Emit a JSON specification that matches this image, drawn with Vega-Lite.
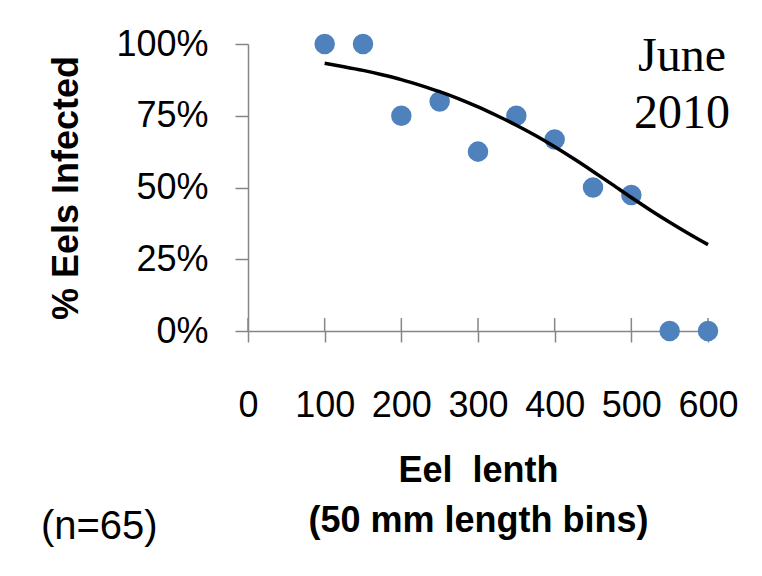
{
  "$schema": "https://vega.github.io/schema/vega-lite/v6.json",
  "autosize": {"type": "none"},
  "width": 460,
  "height": 287,
  "padding": {"left": 248, "top": 44, "right": 54, "bottom": 245},
  "background": "white",
  "config": {"view": {"stroke": null}, "font": "Liberation Sans"},
  "datasets": {
    "points": [
      {"length": 100, "infected": 1.0},
      {"length": 150, "infected": 1.0},
      {"length": 200, "infected": 0.75},
      {"length": 250, "infected": 0.8},
      {"length": 300, "infected": 0.625},
      {"length": 350, "infected": 0.75},
      {"length": 400, "infected": 0.667},
      {"length": 450, "infected": 0.5},
      {"length": 500, "infected": 0.474},
      {"length": 550, "infected": 0.0},
      {"length": 600, "infected": 0.0}
    ],
    "trend": [
      {"length": 100, "infected": 0.933},
      {"length": 125, "infected": 0.921},
      {"length": 150, "infected": 0.908},
      {"length": 175, "infected": 0.893},
      {"length": 200, "infected": 0.876},
      {"length": 225, "infected": 0.856},
      {"length": 250, "infected": 0.834},
      {"length": 275, "infected": 0.809},
      {"length": 300, "infected": 0.781},
      {"length": 325, "infected": 0.75},
      {"length": 350, "infected": 0.717},
      {"length": 375, "infected": 0.681},
      {"length": 400, "infected": 0.642},
      {"length": 425, "infected": 0.6},
      {"length": 450, "infected": 0.556},
      {"length": 475, "infected": 0.511},
      {"length": 500, "infected": 0.465},
      {"length": 525, "infected": 0.421},
      {"length": 550, "infected": 0.379},
      {"length": 575, "infected": 0.339},
      {"length": 600, "infected": 0.301}
    ],
    "majorTicks": [
      {"length": 0}, {"length": 100}, {"length": 200}, {"length": 300},
      {"length": 400}, {"length": 500}, {"length": 600}
    ]
  },
  "layer": [
    {
      "data": {"name": "majorTicks"},
      "mark": {"type": "rule", "color": "#868686", "strokeWidth": 1.5},
      "encoding": {
        "x": {
          "field": "length",
          "type": "quantitative",
          "scale": {"domain": [0, 600], "nice": false, "zero": false},
          "axis": {
            "values": [0, 50, 100, 150, 200, 250, 300, 350, 400, 450, 500, 550, 600],
            "labelExpr": "datum.value % 100 === 0 ? datum.label : ''",
            "format": "d",
            "tickSize": 11,
            "tickWidth": 1.5,
            "tickColor": "#868686",
            "domainColor": "#868686",
            "domainWidth": 1.5,
            "grid": false,
            "labelPadding": 46,
            "labelFontSize": 36,
            "labelColor": "black",
            "labelFlush": false,
            "labelOverlap": false,
            "title": ["Eel \u00a0lenth", "(50 mm length bins)"],
            "titleFontSize": 36,
            "titleFontWeight": "bold",
            "titleColor": "black",
            "titleLineHeight": 50,
            "titlePadding": 30
          }
        },
        "y": {
          "datum": 0,
          "type": "quantitative",
          "scale": {"domain": [0, 1], "nice": false},
          "axis": {
            "values": [0, 0.25, 0.5, 0.75, 1],
            "format": ".0%",
            "tickSize": 13,
            "tickWidth": 1.5,
            "tickColor": "#868686",
            "domainColor": "#868686",
            "domainWidth": 1.5,
            "grid": false,
            "labelPadding": 27,
            "labelFontSize": 36,
            "labelColor": "black",
            "labelFlush": false,
            "title": "% Eels Infected",
            "titleFontSize": 36,
            "titleFontWeight": "bold",
            "titleColor": "black",
            "titlePadding": 30
          }
        },
        "y2": {"datum": 0.045}
      }
    },
    {
      "data": {"name": "points"},
      "mark": {"type": "point", "filled": true, "opacity": 1, "size": 420, "color": "#4F81BD"},
      "encoding": {
        "x": {"field": "length", "type": "quantitative"},
        "y": {"field": "infected", "type": "quantitative"}
      }
    },
    {
      "data": {"name": "trend"},
      "mark": {"type": "line", "color": "black", "strokeWidth": 3.5, "interpolate": "monotone"},
      "encoding": {
        "x": {"field": "length", "type": "quantitative"},
        "y": {"field": "infected", "type": "quantitative"}
      }
    },
    {
      "data": {"values": [{}]},
      "mark": {"type": "text", "text": ["June", "2010"], "font": "Liberation Serif", "fontSize": 48, "lineHeight": 57, "align": "center", "baseline": "middle", "color": "black"},
      "encoding": {
        "x": {"datum": 566, "type": "quantitative"},
        "y": {"datum": 0.955, "type": "quantitative"}
      }
    },
    {
      "data": {"values": [{}]},
      "mark": {"type": "text", "text": "(n=65)", "fontSize": 40, "align": "center", "baseline": "middle", "color": "black"},
      "encoding": {
        "x": {"datum": -194, "type": "quantitative"},
        "y": {"datum": -0.683, "type": "quantitative"}
      }
    }
  ]
}
